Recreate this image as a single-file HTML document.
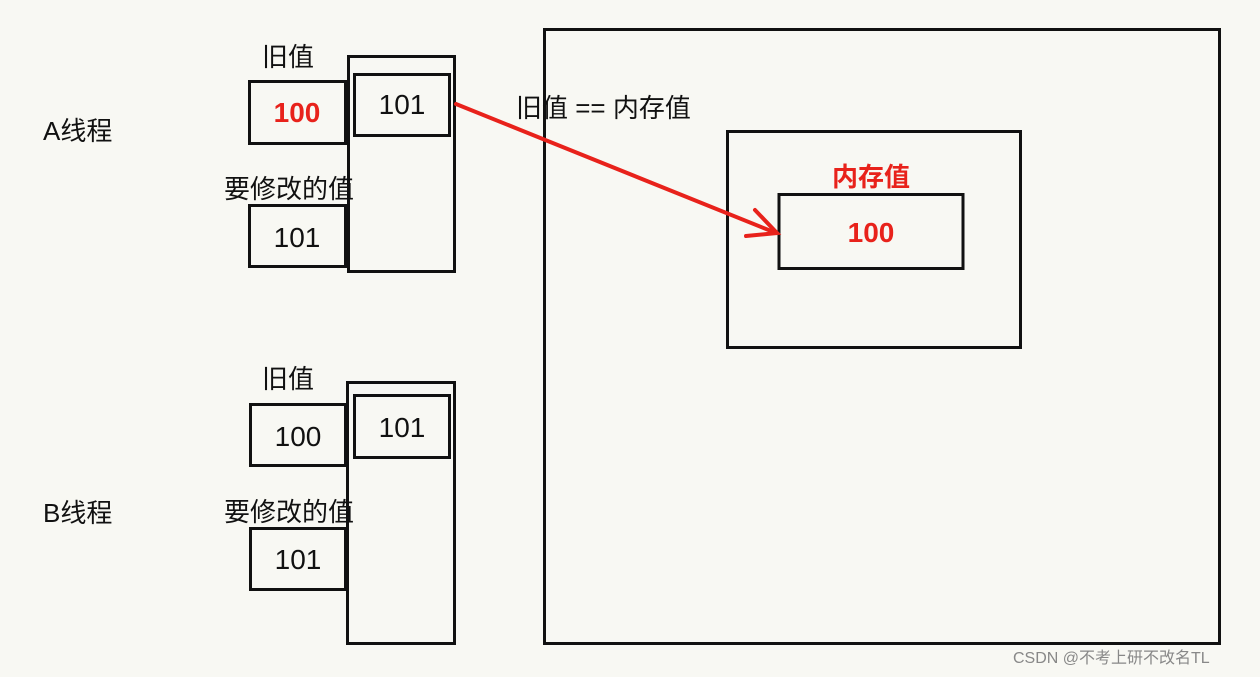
<!DOCTYPE html>
<html><head><meta charset="utf-8"><style>
html,body{margin:0;padding:0;background:#f8f8f3;}
svg{display:block;}
text{font-family:"Liberation Sans","Noto Sans CJK SC",sans-serif;}
</style></head><body>
<svg width="1260" height="677" viewBox="0 0 1260 677" xmlns="http://www.w3.org/2000/svg">
<rect width="1260" height="677" fill="#f8f8f3"/>
<g fill="none" stroke="#111" stroke-width="3">
<rect x="544.5" y="29.5" width="675" height="614"/>
<rect x="727.5" y="131.5" width="293" height="216"/>
<rect x="779" y="194.5" width="184" height="74"/>
<rect x="348.5" y="56.5" width="106" height="215"/>
<rect x="354.5" y="74.5" width="95" height="61"/>
<rect x="249.5" y="81.5" width="96" height="62"/>
<rect x="249.5" y="205.5" width="96" height="61"/>
<rect x="347.5" y="382.5" width="107" height="261"/>
<rect x="354.5" y="395.5" width="95" height="62"/>
<rect x="250.5" y="404.5" width="95" height="61"/>
<rect x="250.5" y="528.5" width="95" height="61"/>
</g>
<g font-size="26" fill="#111">
<text x="43" y="140">A线程</text>
<text x="43" y="522">B线程</text>
<text x="262" y="66">旧值</text>
<text x="262" y="388">旧值</text>
<text x="224" y="198">要修改的值</text>
<text x="224" y="521">要修改的值</text>
<text x="516" y="117">旧值 == 内存值</text>
<text x="402" y="114" text-anchor="middle" font-size="28">101</text>
<text x="297" y="247" text-anchor="middle" font-size="28">101</text>
<text x="402" y="437" text-anchor="middle" font-size="28">101</text>
<text x="298" y="446" text-anchor="middle" font-size="28">100</text>
<text x="298" y="569" text-anchor="middle" font-size="28">101</text>
</g>
<text x="297" y="122" text-anchor="middle" font-size="28" font-weight="bold" fill="#e8221b">100</text>
<text x="871" y="186" text-anchor="middle" font-size="26" font-weight="bold" fill="#e8221b">内存值</text>
<text x="871" y="242" text-anchor="middle" font-size="28" font-weight="bold" fill="#e8221b">100</text>
<g stroke="#e8221b" stroke-width="4" fill="none" stroke-linecap="round">
<line x1="456" y1="104" x2="776" y2="233"/>
<polyline points="755,210 777,233 746,236"/>
</g>
<text x="1013" y="663" font-size="16" fill="#888">CSDN @不考上研不改名TL</text>
</svg>
</body></html>
